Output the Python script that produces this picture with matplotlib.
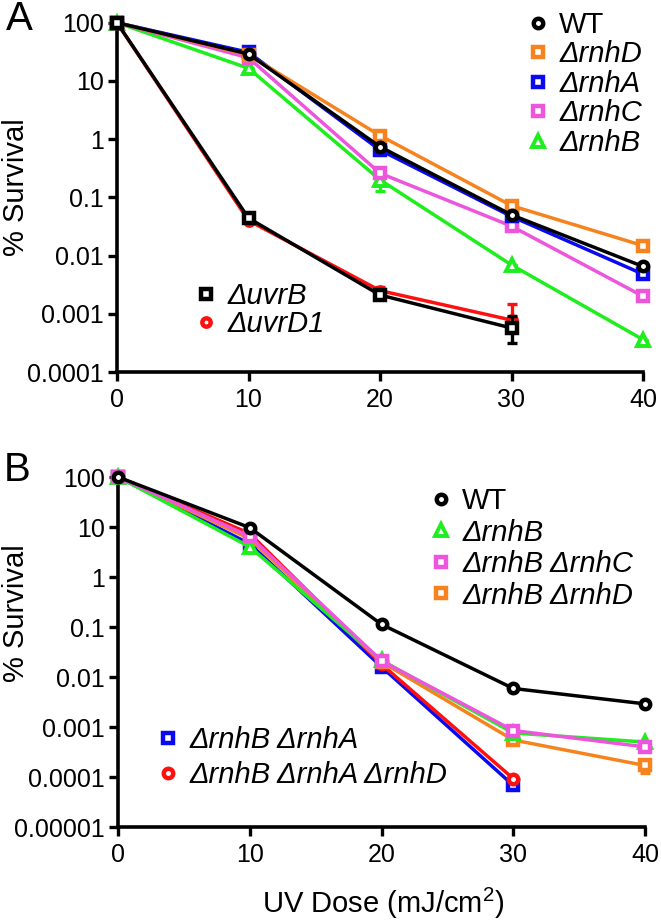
import matplotlib
matplotlib.use("Agg")
import matplotlib.pyplot as plt
from matplotlib.lines import Line2D
import numpy as np

plt.rcParams['font.family'] = ['Liberation Sans', 'DejaVu Sans']
plt.rcParams['mathtext.fontset'] = 'custom'
plt.rcParams['mathtext.rm'] = 'Liberation Sans'
plt.rcParams['mathtext.it'] = 'Liberation Sans:italic'

# ---------------- data ----------------
dose = [0, 10, 20, 30, 40]
dose_short = [0, 10, 20, 30]

# Panel A
a_wt = [100, 29, 0.74, 0.050, 0.0065]
a_rnhD = [100, 28, 1.15, 0.072, 0.0148]
a_rnhA = [100, 31, 0.65, 0.047, 0.0048]
a_rnhC = [100, 25, 0.26, 0.032, 0.0020]
a_rnhB = [100, 16.5, 0.20, 0.0069, 0.00036]
a_uvrB = [100, 0.044, 0.0021, 0.00057]
a_uvrD1 = [100, 0.040, 0.0025, 0.00078]
a_rnhB_err_lo = [0, 0, 0.07, 0, 0]
a_rnhB_err_hi = [0, 0, 0.12, 0, 0]
a_uvrB_err_lo = [0, 0, 0, 0.00025]
a_uvrB_err_hi = [0, 0, 0, 0.00036]
a_uvrD1_err_lo = [0, 0, 0, 0]
a_uvrD1_err_hi = [0, 0, 0.0004, 0.0007]

# Panel B
b_wt = [100, 9.7, 0.113, 0.0059, 0.0029]
b_rnhB = [100, 4.0, 0.0215, 0.00076, 0.00050]
b_rnhBC = [100, 6.5, 0.021, 0.00085, 0.00040]
b_rnhBD = [100, 5.8, 0.020, 0.00055, 0.00017]
b_rnhBA = [100, 4.6, 0.016, 0.000068]
b_rnhBAD = [100, 7.4, 0.018, 0.000093]
b_rnhBD_err = [0, 0, 0, 0.0001, 0.00005]

yticks_a = [1e-4, 1e-3, 1e-2, 1e-1, 1, 10, 100]
yticklabels_a = ['0.0001', '0.001', '0.01', '0.1', '1', '10', '100']
yticks_b = [1e-5, 1e-4, 1e-3, 1e-2, 1e-1, 1, 10, 100]
yticklabels_b = ['0.00001', '0.0001', '0.001', '0.01', '0.1', '1', '10', '100']
xticks = [0, 10, 20, 30, 40]

# ---------------- style ----------------
BLACK = '#000000'
ORANGE = '#F7831E'
BLUE = '#0A0AF0'
MAGENTA = '#EE55DD'
GREEN = '#1EEE1E'
RED = '#FF1010'

LW = 2.5
MS = 6.8
MEW = 3.2
TRI_MS = 8.0
TRI_MEW = 2.8
TICK_FS = 18
LEG_FS = 21

W, H = 661, 922
fig = plt.figure(figsize=(W / 100, H / 100), dpi=100)


def px_axes(left, top, right, bottom):
    return fig.add_axes([left / W, 1 - bottom / H, (right - left) / W, (bottom - top) / H])


def style_axes(ax, yt, ytl, ylim):
    ax.set_yscale('log')
    ax.set_xlim(0, 40)
    ax.set_ylim(*ylim)
    ax.set_yticks(yt)
    ax.set_yticklabels(ytl)
    ax.yaxis.set_minor_locator(matplotlib.ticker.NullLocator())
    ax.set_xticks(xticks)
    ax.set_xticklabels([str(x) for x in xticks])
    for s in ['top', 'right']:
        ax.spines[s].set_visible(False)
    for s in ['left', 'bottom']:
        ax.spines[s].set_linewidth(2.6)
    ax.tick_params(axis='both', direction='out', length=6.5, width=2.4,
                   labelsize=TICK_FS, color='black')
    ax.tick_params(axis='y', pad=3)
    ax.tick_params(axis='x', pad=5)


def series(ax, x, y, color, marker, z, err=None, ms=MS, mew=MEW):
    ax.plot(x, y, color=color, lw=LW, zorder=z, clip_on=False)
    if err is not None:
        ax.errorbar(x, y, yerr=err, fmt='none', ecolor=color, elinewidth=2.4,
                    capsize=3.5, capthick=2.4, zorder=z, clip_on=False)
    ax.plot(x, y, linestyle='none', marker=marker, ms=ms, mfc='white',
            mec=color, mew=mew, zorder=z + 0.5, clip_on=False)


def handle(color, marker, ms=MS, mew=MEW):
    return Line2D([], [], linestyle='none', marker=marker, ms=ms, mfc='white',
                  mec=color, mew=mew)


LEGKW = dict(bbox_transform=fig.transFigure, frameon=False,
             prop={'size': LEG_FS, 'style': 'italic'},
             handlelength=0.75, handletextpad=0.35, borderpad=0, borderaxespad=0,
             loc='upper left')

# ---------------- Panel A ----------------
axA = px_axes(117, 22.7, 643, 372)
style_axes(axA, yticks_a, yticklabels_a, (1e-4, 100))

series(axA, dose, a_rnhB, GREEN, '^', 2, err=[a_rnhB_err_lo, a_rnhB_err_hi], ms=TRI_MS, mew=TRI_MEW)
series(axA, dose, a_rnhC, MAGENTA, 's', 3)
series(axA, dose, a_rnhA, BLUE, 's', 4)
series(axA, dose, a_rnhD, ORANGE, 's', 5)
series(axA, dose, a_wt, BLACK, 'o', 6)
series(axA, dose_short, a_uvrD1, RED, 'o', 7, err=[a_uvrD1_err_lo, a_uvrD1_err_hi], ms=6.0)
series(axA, dose_short, a_uvrB, BLACK, 's', 8, err=[a_uvrB_err_lo, a_uvrB_err_hi])

legA1 = axA.legend([handle(BLACK, 'o'), handle(ORANGE, 's'), handle(BLUE, 's'),
                    handle(MAGENTA, 's'), handle(GREEN, '^', TRI_MS, TRI_MEW)],
                   ['WT', 'ΔrnhD', 'ΔrnhA', 'ΔrnhC', 'ΔrnhB'],
                   bbox_to_anchor=(527 / W, 1 - 11 / H), labelspacing=0.05, **LEGKW)
for t in legA1.get_texts()[:1]:
    t.set_fontstyle('normal')
axA.add_artist(legA1)
axA.legend([handle(BLACK, 's'), handle(RED, 'o', 6.0)],
           ['ΔuvrB', 'ΔuvrD1'],
           bbox_to_anchor=(195 / W, 1 - 282 / H), labelspacing=0.0, **LEGKW)

# ---------------- Panel B ----------------
axB = px_axes(118, 477, 645, 827)
style_axes(axB, yticks_b, yticklabels_b, (1e-5, 100))

series(axB, dose_short, b_rnhBA, BLUE, 's', 2)
series(axB, dose_short, b_rnhBAD, RED, 'o', 3)
series(axB, dose, b_rnhBD, ORANGE, 's', 4, err=b_rnhBD_err)
series(axB, dose, b_rnhB, GREEN, '^', 5, ms=TRI_MS, mew=TRI_MEW)
series(axB, dose, b_rnhBC, MAGENTA, 's', 6)
series(axB, dose, b_wt, BLACK, 'o', 7)

legB1 = axB.legend([handle(BLACK, 'o'), handle(GREEN, '^', TRI_MS, TRI_MEW), handle(MAGENTA, 's'),
                    handle(ORANGE, 's')],
                   ['WT', 'ΔrnhB', 'ΔrnhB ΔrnhC', 'ΔrnhB ΔrnhD'],
                   bbox_to_anchor=(430 / W, 1 - 487 / H), labelspacing=0.12, **LEGKW)
for t in legB1.get_texts()[:1]:
    t.set_fontstyle('normal')
axB.add_artist(legB1)
axB.legend([handle(BLUE, 's'), handle(RED, 'o')],
           ['ΔrnhB ΔrnhA', 'ΔrnhB ΔrnhA ΔrnhD'],
           bbox_to_anchor=(157 / W, 1 - 726 / H), labelspacing=0.25, **LEGKW)

# ---------------- labels ----------------
fig.text(16 / W, 1 - 187 / H, '% Survival', rotation=90, ha='center', va='center', fontsize=21)
fig.text(16 / W, 1 - 613 / H, '% Survival', rotation=90, ha='center', va='center', fontsize=21)
fig.text(383 / W, 1 - 903 / H, 'UV Dose (mJ/cm$^2$)', ha='center', va='center', fontsize=21)
fig.text(19 / W, 1 - 19 / H, 'A', ha='center', va='center', fontsize=29)
fig.text(17 / W, 1 - 470 / H, 'B', ha='center', va='center', fontsize=29)

fig.savefig('out.png', dpi=100)
